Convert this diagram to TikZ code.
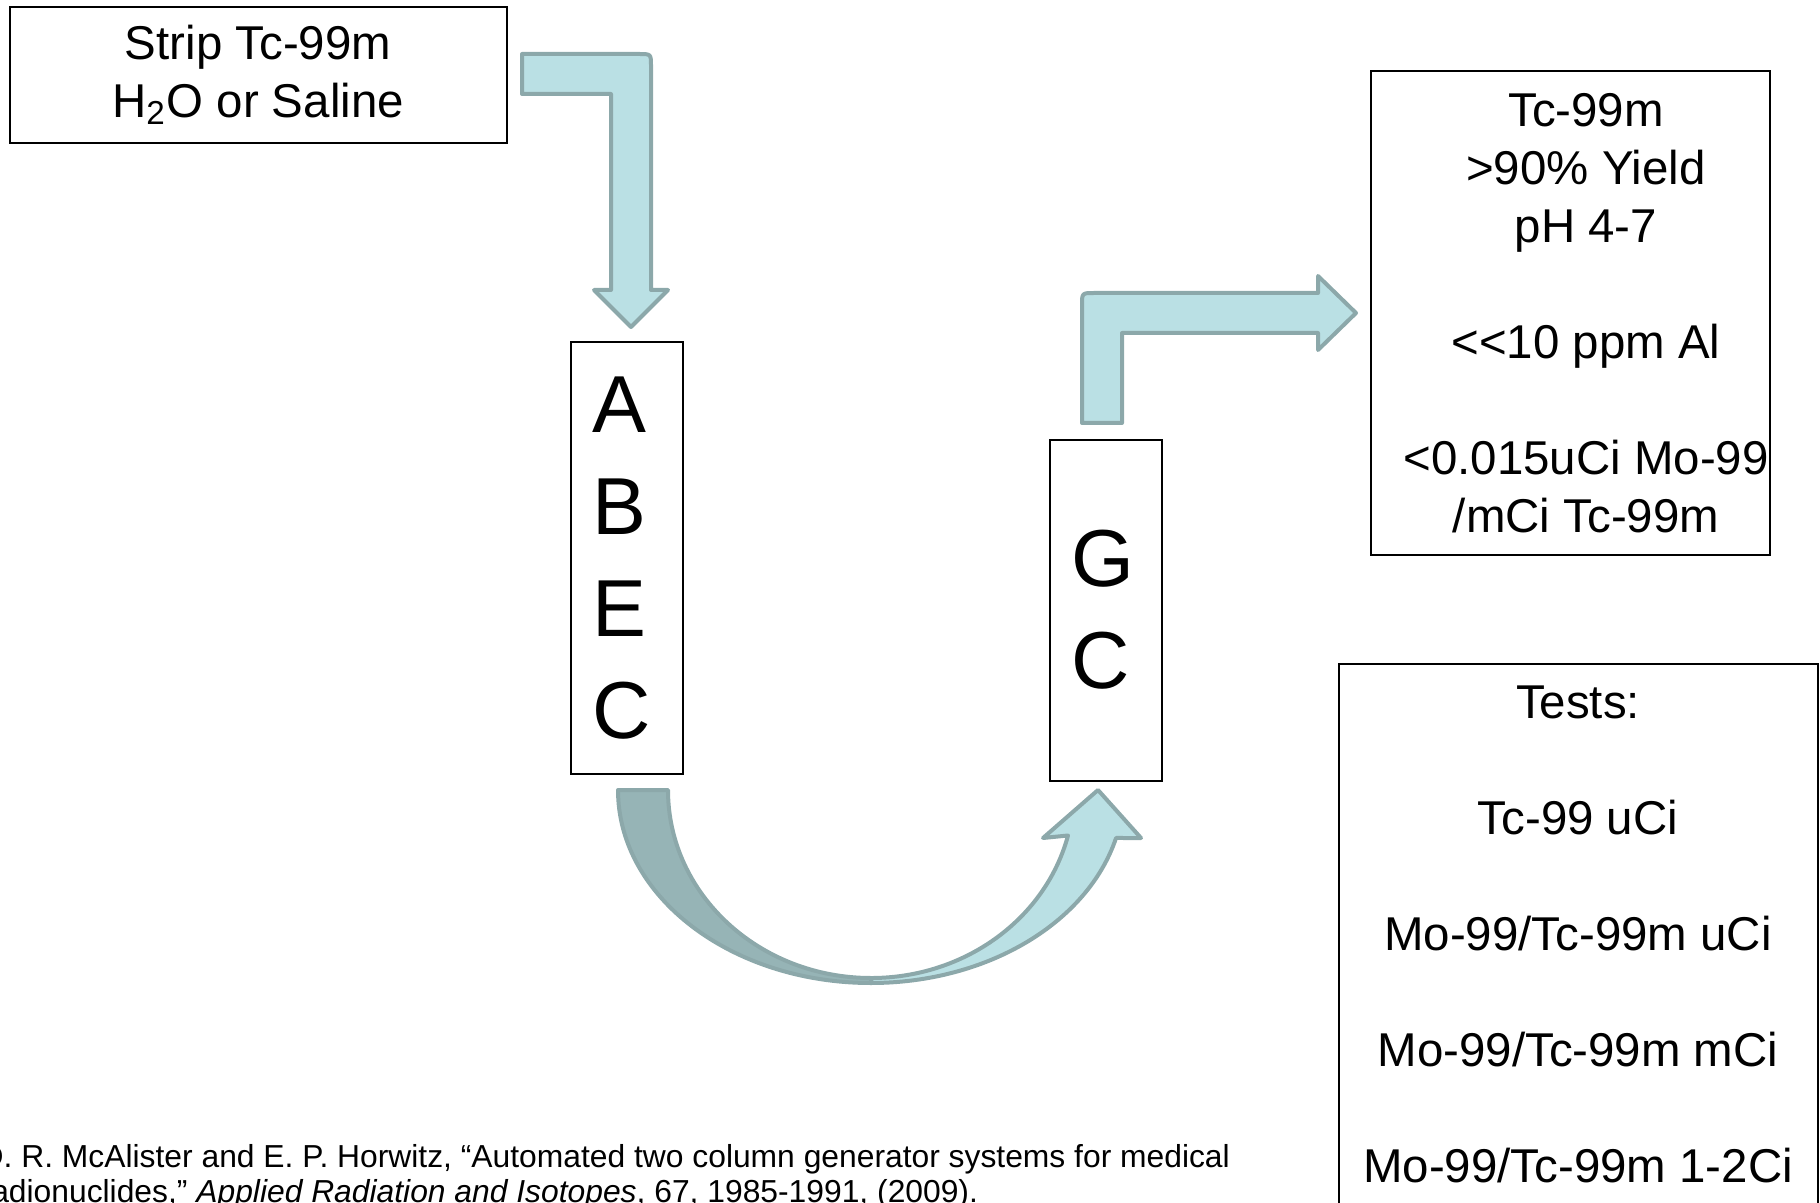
\documentclass[tikz,border=0pt]{standalone}
\usepackage{fontspec}
\setmainfont{Liberation Sans}
\usepackage{tikz}
\usetikzlibrary{positioning}
\definecolor{arrowfill}{HTML}{BAE0E4}
\definecolor{arrowdark}{HTML}{96B4B6}
\definecolor{arrowline}{HTML}{8CA8AA}

\begin{document}
\begin{tikzpicture}[
    x=0.1mm, y=-0.1mm,
    box/.style={draw=black, line width=0.2mm, inner sep=0pt, align=center,
                font=\fontsize{13.5}{16.5}\selectfont},
    column/.style={draw=black, line width=0.2mm, inner sep=0pt, align=left,
                   text width=7mm, minimum width=11.2mm,
                   font=\fontsize{23}{29}\selectfont},
    blockarrow/.style={draw=arrowline, fill=arrowfill, line width=0.4mm,
                       line join=round},
    cite/.style={inner sep=0pt, align=left, font=\fontsize{9.05}{9.7}\selectfont}
  ]
  \useasboundingbox (0,0) rectangle (1820,1203);
  \clip (0,0) rectangle (1820,1203);

  % boxes
  \node[box, minimum width=49.7mm, minimum height=13.6mm] (strip) at (258,75)
    {Strip Tc-99m\\H\textsubscript{2}O or Saline};
  \node[column, minimum height=43.2mm] (abec) at (627,558) {A\\B\\E\\C};
  \node[column, minimum height=34.1mm] (gc) at (1106,610) {G\\C};
  \node[box, minimum width=39.9mm, minimum height=48.4mm] (specbox) at (1570,313) {};
  \node[box, draw=none] (spec) at ([xshift=1.6mm]specbox.center)
    {Tc-99m\\>90\% Yield\\pH 4-7\\[5.8mm]<\kern0pt<10 ppm Al\\[5.8mm]<0.015uCi Mo-99\\/mCi Tc-99m};
  \node[box, minimum width=47.9mm, minimum height=57mm, anchor=north] (testsbox) at (1578,663) {};
  \node[box, draw=none, below=2.2mm of testsbox.north] (tests)
    {Tests:\\[5.8mm]Tc-99 uCi\\[5.8mm]Mo-99/Tc-99m uCi\\[5.8mm]Mo-99/Tc-99m mCi\\[5.8mm]Mo-99/Tc-99m 1-2Ci};

  % block arrows
  \filldraw[blockarrow] (522,54) -- (639,54) .. controls (651,54) .. (651,66)
    -- (651,290) -- (668,290) -- (631,327) -- (594,290) -- (611,290)
    -- (611,94) -- (522,94) -- cycle;
  \filldraw[blockarrow] (1082,423) -- (1082,305) .. controls (1082,293) .. (1094,293)
    -- (1318,293) -- (1318,276) -- (1356,313) -- (1318,350) -- (1318,333)
    -- (1122,333) -- (1122,423) -- cycle;

  % curved arrow, back then front
  \filldraw[blockarrow, fill=arrowdark] (618,790)
    arc[start angle=180, end angle=270, x radius=25.3mm, y radius=19.3mm]
    -- (871,978) arc[start angle=270, end angle=180, x radius=20.3mm, y radius=18.8mm] -- cycle;
  \filldraw[blockarrow] (871,983)
    arc[start angle=270, end angle=345.6, x radius=25.3mm, y radius=19.3mm]
    -- (1141,838) -- (1098,790) -- (1043,838) -- (1068,835.5)
    arc[start angle=346, end angle=270, x radius=20.3mm, y radius=18.8mm] -- cycle;

  % reference
  \node[cite, anchor=base west] (ref) at (-20,1202)
    {D. R. McAlister and E. P. Horwitz, “Automated two column generator systems for medical\\
     radionuclides,” \textit{Applied Radiation and Isotopes}, 67, 1985-1991, (2009).};
\end{tikzpicture}
\end{document}
